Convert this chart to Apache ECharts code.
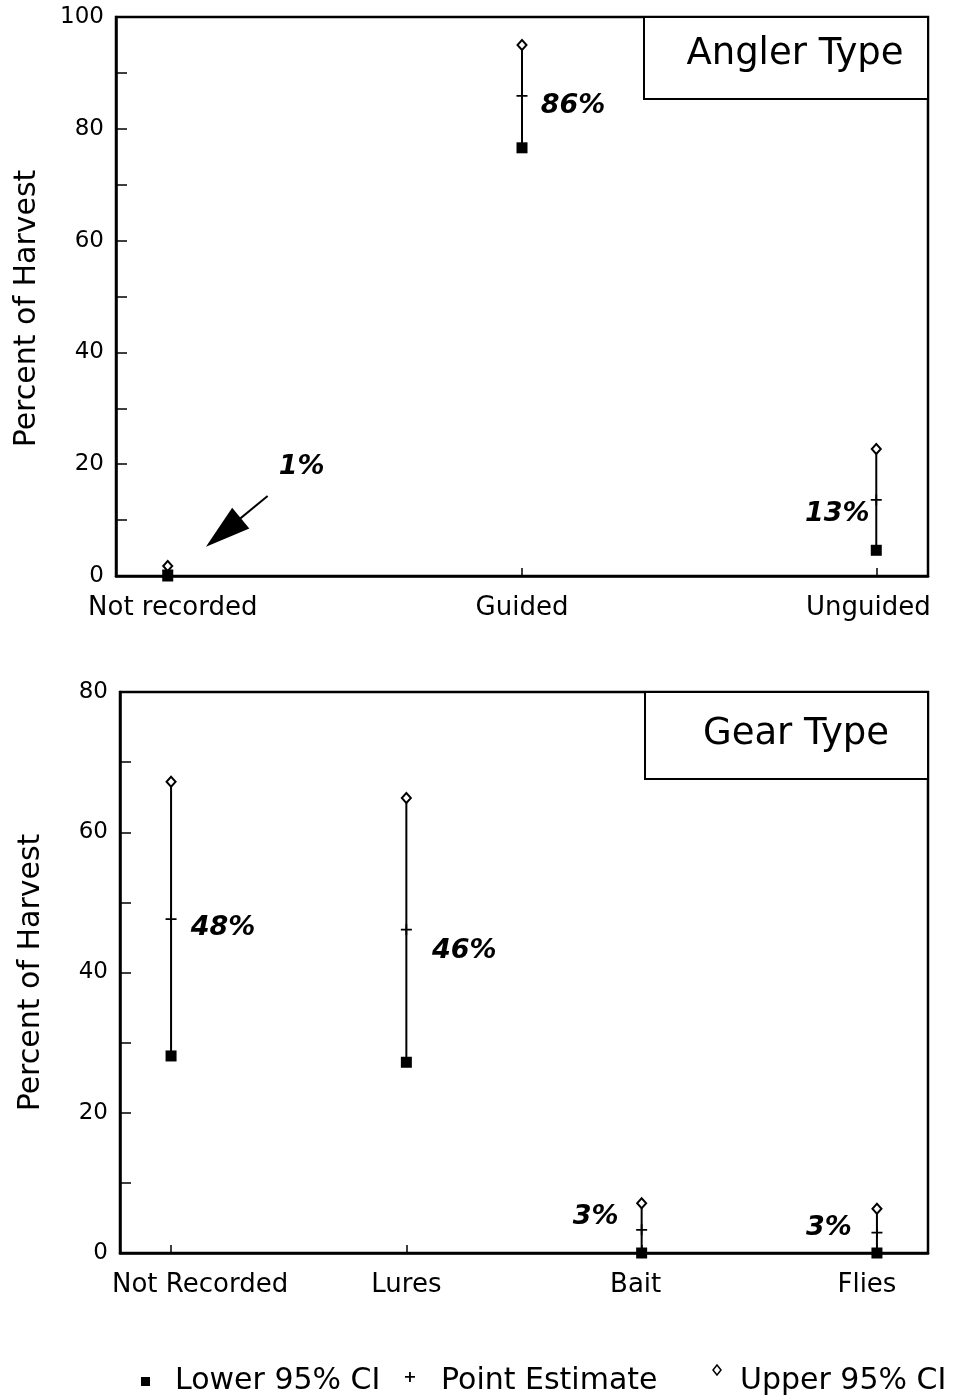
<!DOCTYPE html>
<html>
<head>
<meta charset="utf-8">
<script src="https://cdn.jsdelivr.net/npm/echarts@6/dist/echarts.min.js"></script>
<style>
  html, body { margin: 0; padding: 0; background: #fff; }
  #chart { width: 956px; height: 1399px; }
</style>
</head>
<body>
<div id="chart"></div>
<script>
// angler type panel
const anglerCats = ['Not recorded', 'Guided', 'Unguided'];
const anglerLower = [0, 76.6, 4.6];
const anglerPoint = [1, 85.9, 13.6];
const anglerUpper = [1.8, 95, 22.7];
const anglerPct = ['1%', '86%', '13%'];
const anglerYTicks = [0, 20, 40, 60, 80, 100];

// gear type panel
const gearCats = ['Not Recorded', 'Lures', 'Bait', 'Flies'];
const gearLower = [28.1, 27.2, 0, 0];
const gearPoint = [47.6, 46.1, 3.3, 2.9];
const gearUpper = [67.2, 64.9, 7.1, 6.3];
const gearPct = ['48%', '46%', '3%', '3%'];
const gearYTicks = [0, 20, 40, 60, 80];

const FONT = 'DejaVu Sans';
const plusPath = 'path://M0,4.2h10v1.6h-10z M4.2,0h1.6v10h-1.6z';

const chart = echarts.init(document.getElementById('chart'));

function xAxisFor(cats, min, max, gridIndex, shifts) {
    let rich = {};
    cats.forEach((c, i) => {
        rich['c' + i] = {fontSize: 26, fontFamily: FONT, color: '#000', padding: shifts[i]};
    });
    return {
        type: 'value', gridIndex: gridIndex, min: min, max: max,
        splitLine: {show: false},
        axisLine: {onZero: false, lineStyle: {color: '#000', width: 2.5}},
        axisTick: {inside: true, length: 8, customValues: cats.map((c, i) => i), lineStyle: {color: '#000', width: 1.5}},
        axisLabel: {
            customValues: cats.map((c, i) => i),
            margin: 19,
            formatter: v => '{c' + Math.round(v) + '|' + cats[Math.round(v)] + '}',
            rich: rich
        }
    };
}

function yAxisFor(max, ticks, gridIndex) {
    return {
        type: 'value', gridIndex: gridIndex, min: 0, max: max, interval: 10,
        name: 'Percent of Harvest', nameLocation: 'middle', nameGap: 74,
        nameTextStyle: {fontSize: 30, fontFamily: FONT, color: '#000', padding: gridIndex === 0 ? [0, 24, 0, 0] : 0},
        splitLine: {show: false},
        axisLine: {show: true, onZero: false, lineStyle: {color: '#000', width: 2.5}},
        axisTick: {inside: true, length: 11, lineStyle: {color: '#000', width: 1.5}},
        axisLabel: {customValues: ticks, fontSize: 23, fontFamily: FONT, color: '#000', margin: 12}
    };
}

function panelSeries(idx, lower, point, upper, pct, offsets, extra) {
    let bars = lower.map((v, i) => [i, v, upper[i]]);
    let pts = point.map((v, i) => ({value: [i, v], label: {offset: offsets[i]}}));
    let s = [{
        name: 'ci', type: 'custom', xAxisIndex: idx, yAxisIndex: idx, z: 1,
        encode: {x: 0, y: [1, 2]},
        renderItem: (params, api) => {
            const a = api.coord([api.value(0), api.value(1)]);
            const b = api.coord([api.value(0), api.value(2)]);
            return {type: 'line', shape: {x1: a[0], y1: a[1], x2: b[0], y2: b[1]},
                style: {stroke: '#000', lineWidth: 2}};
        },
        data: bars
    }, {
        name: 'Lower 95% CI', type: 'scatter', xAxisIndex: idx, yAxisIndex: idx, z: 3,
        symbol: 'rect', symbolSize: 11, itemStyle: {color: '#000', opacity: 1},
        data: lower.map((v, i) => [i, v])
    }, Object.assign({
        name: 'Point Estimate', type: 'scatter', xAxisIndex: idx, yAxisIndex: idx, z: 3,
        symbol: plusPath, symbolSize: 11, itemStyle: {color: '#000', opacity: 1},
        label: {
            show: true, position: 'inside', color: '#000', opacity: 1,
            fontFamily: FONT, fontSize: 27, fontWeight: 'bold', fontStyle: 'italic',
            formatter: p => pct[p.dataIndex]
        },
        data: pts
    }, extra || {}), {
        name: 'Upper 95% CI', type: 'scatter', xAxisIndex: idx, yAxisIndex: idx, z: 3,
        symbol: 'emptyDiamond', symbolSize: [9, 10], itemStyle: {color: '#000', borderWidth: 2, opacity: 1},
        data: upper.map((v, i) => [i, v])
    }];
    return s;
}

const arrow = {
    markLine: {
        silent: true, animation: false,
        lineStyle: {color: '#000', width: 2, type: 'solid', opacity: 1},
        itemStyle: {color: '#000', opacity: 1},
        label: {show: false},
        data: [[
            {coord: [0.282, 14.3], symbol: 'none'},
            {coord: [0.157, 7.8], symbol: 'triangle', symbolSize: [27, 45]}
        ]]
    }
};

let option = {
    backgroundColor: '#fff',
    animation: false,
    grid: [
        {left: 116, right: 28, top: 17, height: 559, show: true, borderColor: '#000', borderWidth: 2.5},
        {left: 120, right: 28, top: 692, height: 561, show: true, borderColor: '#000', borderWidth: 2.5}
    ],
    xAxis: [
        xAxisFor(anglerCats, -0.146, 2.146, 0, [[0, 0, 0, 10], 0, [0, 16, 0, 0]]),
        xAxisFor(gearCats, -0.217, 3.217, 1, [[0, 0, 0, 58], 0, [0, 12, 0, 0], [0, 20, 0, 0]])
    ],
    yAxis: [
        yAxisFor(100, anglerYTicks, 0),
        yAxisFor(80, gearYTicks, 1)
    ],
    series: [].concat(
        panelSeries(0, anglerLower, anglerPoint, anglerUpper, anglerPct,
            [[134, -103], [51, 10], [-39, 14]], arrow),
        panelSeries(1, gearLower, gearPoint, gearUpper, gearPct,
            [[52, 9], [58, 21], [-46, -13], [-48, -5]])
    ),
    graphic: [
        // panel title boxes
        {type: 'rect', shape: {x: 644, y: 17, width: 284, height: 82}, style: {fill: '#fff', stroke: '#000', lineWidth: 2}, z: 10},
        {type: 'text', x: 795, y: 54, z: 11, style: {text: 'Angler Type', font: '37px "DejaVu Sans"', fill: '#000', align: 'center', verticalAlign: 'middle'}},
        {type: 'rect', shape: {x: 645, y: 692, width: 283, height: 87}, style: {fill: '#fff', stroke: '#000', lineWidth: 2}, z: 10},
        {type: 'text', x: 796, y: 734, z: 11, style: {text: 'Gear Type', font: '37px "DejaVu Sans"', fill: '#000', align: 'center', verticalAlign: 'middle'}},
        // legend
        {type: 'rect', shape: {x: 141, y: 1377, width: 9, height: 9}, style: {fill: '#000'}},
        {type: 'text', x: 175, y: 1381, style: {text: 'Lower 95% CI', font: '30px "DejaVu Sans"', fill: '#000', verticalAlign: 'middle'}},
        {type: 'text', x: 410, y: 1378, style: {text: '+', font: 'bold 16px "DejaVu Sans"', fill: '#000', align: 'center', verticalAlign: 'middle'}},
        {type: 'text', x: 441, y: 1381, style: {text: 'Point Estimate', font: '30px "DejaVu Sans"', fill: '#000', verticalAlign: 'middle'}},
        {type: 'polygon', shape: {points: [[717, 1365], [721, 1370], [717, 1375], [713, 1370]]}, style: {fill: '#fff', stroke: '#000', lineWidth: 1.5}},
        {type: 'text', x: 740, y: 1381, style: {text: 'Upper 95% CI', font: '30px "DejaVu Sans"', fill: '#000', verticalAlign: 'middle'}}
    ]
};

option && chart.setOption(option);
</script>
</body>
</html>
